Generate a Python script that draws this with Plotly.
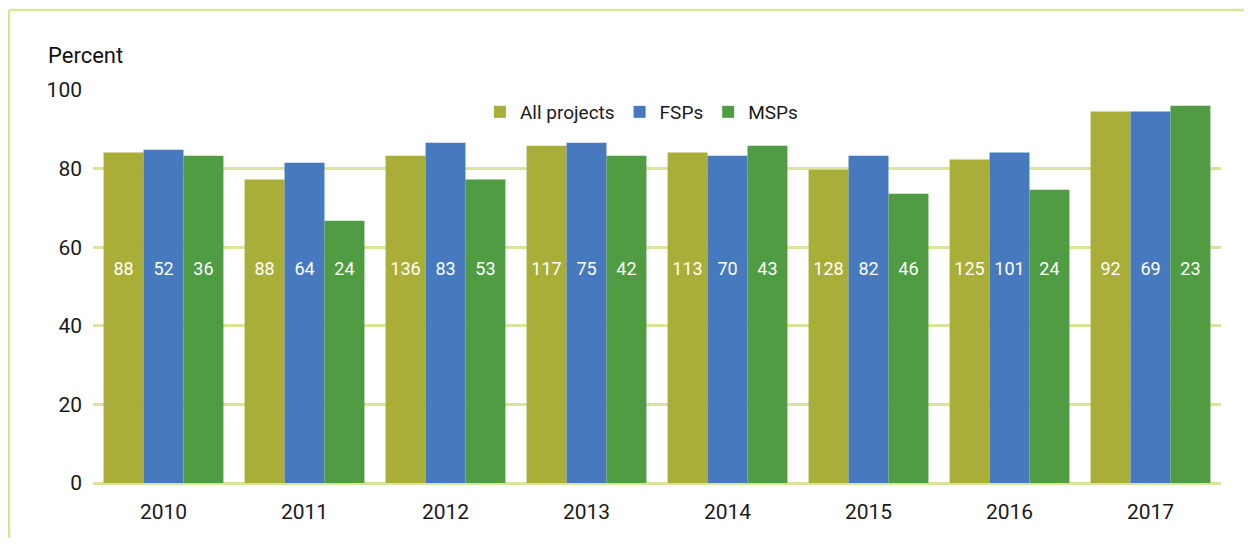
import plotly.graph_objects as go

years = ['2010', '2011', '2012', '2013', '2014', '2015', '2016', '2017']
all_projects = [84.1, 77.2, 83.3, 85.8, 84.1, 79.7, 82.3, 94.5]
fsps = [84.8, 81.5, 86.6, 86.6, 83.3, 83.3, 84.1, 94.5]
msps = [83.3, 66.7, 77.2, 83.3, 85.8, 73.6, 74.6, 96.0]
# number of projects, printed inside the bars
n_all = [88, 88, 136, 117, 113, 128, 125, 92]
n_fsp = [52, 64, 83, 75, 70, 82, 101, 69]
n_msp = [36, 24, 53, 42, 43, 46, 24, 23]

series = [
    ('All projects', all_projects, n_all, '#a9ae38'),
    ('FSPs', fsps, n_fsp, '#4779bf'),
    ('MSPs', msps, n_msp, '#4f9c43'),
]
label_y = 54

fig = go.Figure()
for i, (name, vals, counts, col) in enumerate(series):
    fig.add_trace(go.Bar(
        x=years, y=vals, name=name, marker=dict(color=col, line=dict(width=0)),
        offsetgroup=str(i), hoverinfo='y'
    ))
for i, (name, vals, counts, col) in enumerate(series):
    fig.add_trace(go.Scatter(
        x=years, y=[label_y] * len(years), mode='text', text=[str(c) for c in counts],
        textfont=dict(family='Liberation Sans Narrow, Roboto', size=18, color='white'),
        offsetgroup=str(i), showlegend=False, hoverinfo='skip'
    ))

grid = '#d9e59a'
# page body adds 8px margin, so the figure is drawn 8px in from the window edge
fig.update_layout(
    width=1236, height=530,
    margin=dict(l=85, r=23, t=82, b=55),
    barmode='group', scattermode='group', bargap=0.15, bargroupgap=0,
    plot_bgcolor='white', paper_bgcolor='white',
    font=dict(family='Roboto, DejaVu Sans', size=19, color='#1a1a1a'),
    showlegend=True,
    legend=dict(orientation='h', x=0.343, y=0.944, xanchor='left', yanchor='middle',
                font=dict(size=19), itemsizing='constant', traceorder='normal',
                bgcolor='rgba(0,0,0,0)', itemwidth=30),
    xaxis=dict(showgrid=False, showline=False, ticks='', tickfont=dict(size=21),
               range=[-0.5, 7.5], ticklabelstandoff=14),
    yaxis=dict(range=[0, 100], dtick=20, showgrid=True, gridcolor=grid, gridwidth=2.5,
               zeroline=True, zerolinecolor=grid, zerolinewidth=2.5, showline=False,
               ticks='', tickfont=dict(size=21), ticklabelstandoff=10),
    shapes=[
        dict(type='line', xref='paper', yref='paper', x0=-0.0745, x1=1.04, y0=1.2036, y1=1.2036,
             line=dict(color=grid, width=2.5)),
        dict(type='line', xref='paper', yref='paper', x0=-0.0745, x1=-0.0745, y0=1.2036, y1=-0.2,
             line=dict(color=grid, width=2.5)),
    ],
    annotations=[
        dict(text='Percent', xref='paper', yref='paper', x=-0.042, y=1.05, xanchor='left',
             yanchor='bottom', showarrow=False, font=dict(size=22, color='#111111'))
    ],
)

fig.write_html("out.html")
